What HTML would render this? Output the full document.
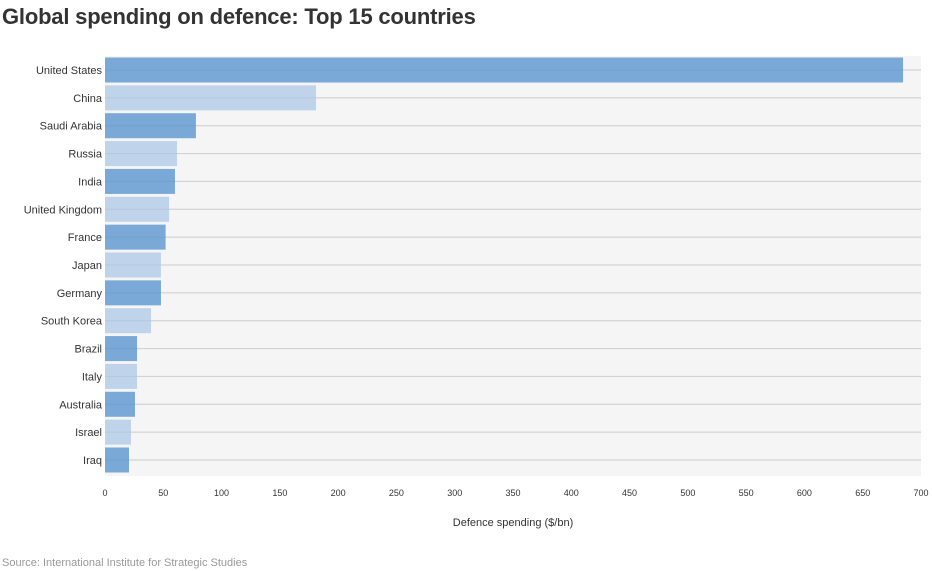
<!DOCTYPE html>
<html><head><meta charset="utf-8"><style>
body{margin:0;background:#fff;font-family:"Liberation Sans",sans-serif;}
#wrap{position:relative;width:932px;height:571px;overflow:hidden;}
h1{position:absolute;left:2px;top:4px;margin:0;font-size:22px;font-weight:bold;color:#333;letter-spacing:-0.2px;}
#src{position:absolute;left:2px;top:557px;font-size:11px;color:#999;}
</style></head><body>
<div id="wrap">
<h1>Global spending on defence: Top 15 countries</h1>
<svg id="chart" width="932" height="571" style="position:absolute;left:0;top:0"></svg>
<div id="src">Source: International Institute for Strategic Studies</div>
</div>
<script>
const countries=["United States","China","Saudi Arabia","Russia","India","United Kingdom","France","Japan","Germany","South Korea","Brazil","Italy","Australia","Israel","Iraq"];
const spending=[684.6,181,78,61.8,60,55,52,48,48,39.5,27.5,27.5,25.7,22.3,20.6];
const xTicks=[0,50,100,150,200,250,300,350,400,450,500,550,600,650,700];
const NS="http://www.w3.org/2000/svg";
const svg=document.getElementById('chart');
const X0=105,X1=921,Y0=56,Y1=476,rowTop=70,rowStep=(460-70)/14;
const x=v=>X0+(v-0)/(700-0)*(X1-X0);
const y=i=>rowTop+i*rowStep;
function el(t,a){const e=document.createElementNS(NS,t);for(const k in a)e.setAttribute(k,a[k]);svg.appendChild(e);return e;}
const bg=el('rect',{x:X0,y:Y0,width:X1-X0,height:Y1-Y0,fill:'#f5f5f5'});


countries.forEach((c,i)=>{
  const g=el('line',{x1:X0,x2:X1,y1:y(i),y2:y(i),stroke:'#ccc','stroke-width':1});
  
  
});
countries.forEach((c,i)=>{
  const dark=i%2===0;
  const b=el('rect',{x:X0,y:y(i)-12.5,width:x(spending[i])-X0,height:25,fill:dark?'#5b95cf':'#a8c6e5','fill-opacity':dark?0.8:0.7});
  
  
  const t=el('text',{x:X0-3,y:y(i)+4,'text-anchor':'end','font-size':11,fill:'#333'});
  t.textContent=c;
  
  
});
xTicks.forEach(v=>{
  const t=el('text',{x:x(v),y:496,'text-anchor':'middle','font-size':9,fill:'#333'});
  t.textContent=v;
  
  
});
const xt=el('text',{x:(X0+X1)/2,y:526,'text-anchor':'middle','font-size':11,fill:'#333'});
xt.textContent='Defence spending ($/bn)';


</script>
</body></html>
